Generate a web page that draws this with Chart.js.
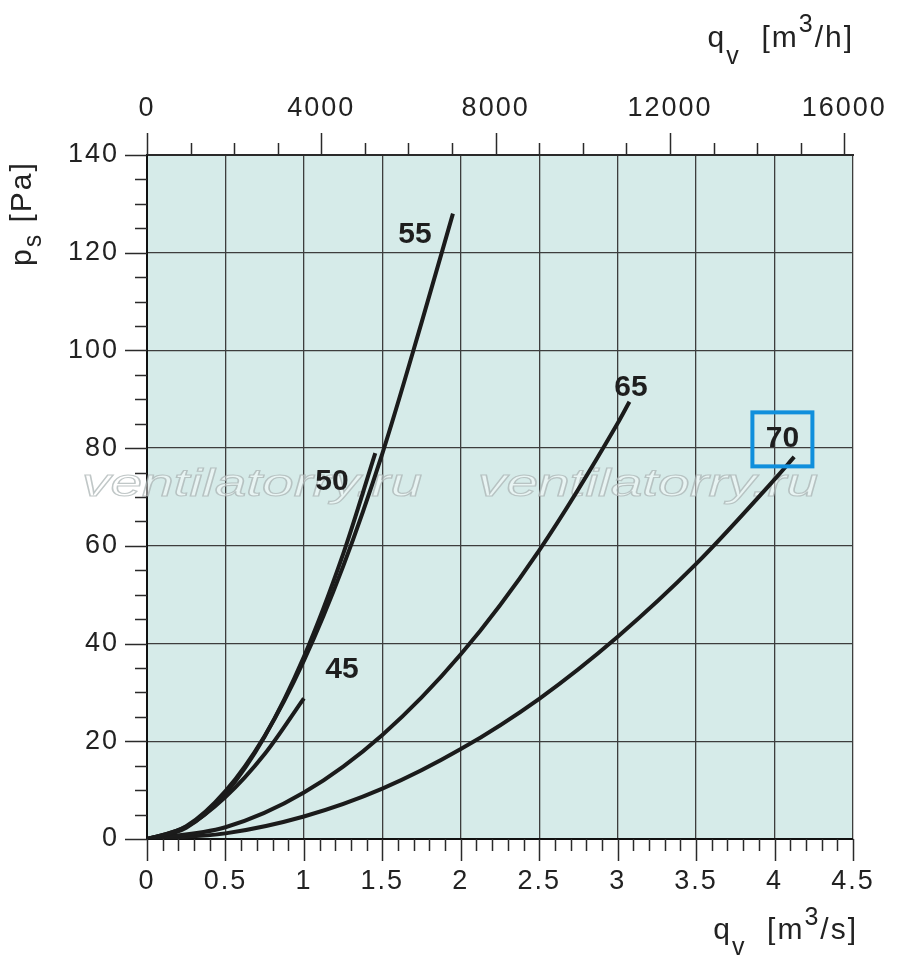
<!DOCTYPE html>
<html lang="ru">
<head>
<meta charset="UTF-8">
<title>ps - qv</title>
<style>
    * { margin: 0; padding: 0; box-sizing: border-box; }
    body { background: #fff; width: 900px; height: 979px; overflow: hidden; }
    #wrap { width: 900px; height: 979px; }
</style>
</head>
<body>
<div id="wrap"><canvas id="fanChart" width="900" height="979"></canvas></div>

<script src="https://cdn.jsdelivr.net/npm/chart.js"></script>
<script>
    // данные кривых (qv в м3/с, ps в Па)
    const curveNames = ['45', '50', '55', '65', '70'];
    const q45 = [0, 0.25, 0.5, 0.75, 1.0];
    const p45 = [0, 2.5, 8.6, 17.4, 28.8];
    const q50 = [0, 0.25, 0.5, 0.75, 1.0, 1.25, 1.455];
    const p50 = [0, 2.3, 9.3, 21.0, 37.3, 58.3, 79.0];
    const q55 = [0, 0.25, 0.5, 0.75, 1.0, 1.25, 1.5, 1.75, 1.95];
    const p55 = [0, 2.6, 9.8, 21.1, 36.5, 55.8, 78.9, 105.7, 128.0];
    const q65 = [0, 0.5, 1.0, 1.5, 2.0, 2.5, 3.0, 3.075];
    const p65 = [0, 2.4, 9.5, 21.3, 37.8, 59.1, 85.1, 89.5];
    const q70 = [0, 0.5, 1.0, 1.5, 2.0, 2.5, 3.0, 3.5, 4.0, 4.125];
    const p70 = [0, 1.15, 4.6, 10.3, 18.4, 28.7, 41.4, 56.3, 73.6, 78.2];

    // подписи осей
    const xTicks = [0, 0.5, 1, 1.5, 2, 2.5, 3, 3.5, 4, 4.5];
    const x2Ticks = [0, 4000, 8000, 12000, 16000];
    const yTicks = [0, 20, 40, 60, 80, 100, 120, 140];

    const FONT = "'Liberation Sans', Arial, sans-serif";
    Chart.defaults.font.family = FONT;

    const qAll = [q45, q50, q55, q65, q70];
    const pAll = [p45, p50, p55, p65, p70];

    const datasets = curveNames.map(function (name, i) {
        return {
            label: name,
            data: qAll[i].map(function (q, j) { return { x: q, y: pAll[i][j] }; }),
            borderColor: '#1b1b1b',
            borderWidth: 4,
            pointRadius: 0,
            fill: false,
            cubicInterpolationMode: 'monotone'
        };
    });

    // где стоят номера кривых (в единицах осей)
    const labelAt = {
        '45': [1.243, 34.6],
        '50': [1.179, 73.1],
        '55': [1.708, 123.6],
        '65': [3.085, 92.3],
        '70': [4.05, 82.0]
    };

    function richText(ctx, parts, x, y, align) {
        let total = 0;
        parts.forEach(function (p) {
            ctx.font = p[1] + 'px ' + FONT;
            total += ctx.measureText(p[0]).width;
        });
        let cx = align === 'right' ? x - total : x;
        parts.forEach(function (p) {
            ctx.font = p[1] + 'px ' + FONT;
            ctx.fillText(p[0], cx, y + p[2]);
            cx += ctx.measureText(p[0]).width;
        });
    }

    function watermark(ctx, x, y, width) {
        const text = 'ventilatorry.ru';
        ctx.save();
        ctx.letterSpacing = '0px';
        ctx.font = 'italic 38px ' + FONT;
        const w = ctx.measureText(text).width;
        const sx = width / w;
        ctx.translate(x, y);
        ctx.scale(sx, 1);
        ctx.fillStyle = 'rgba(255,255,255,0.45)';
        ctx.fillText(text, 0, 0);
        ctx.strokeStyle = 'rgba(165,175,175,0.7)';
        ctx.lineWidth = 1.1;
        ctx.strokeText(text, 0, 0);
        ctx.restore();
    }

    const decor = {
        id: 'decor',
        beforeDraw(chart) {
            const { ctx, chartArea: a } = chart;
            ctx.letterSpacing = '2px';
            ctx.save();
            ctx.fillStyle = '#d6ebe9';
            ctx.fillRect(a.left, a.top, a.right - a.left, a.bottom - a.top);
            ctx.restore();
        },
        beforeDatasetsDraw(chart) {
            const ctx = chart.ctx;
            watermark(ctx, 82, 496, 340);
            watermark(ctx, 478, 496, 340);
        },
        afterDraw(chart) {
            const { ctx, chartArea: a, scales } = chart;
            const xs = scales.x, x2 = scales.x2, ys = scales.y;
            ctx.save();
            ctx.strokeStyle = '#2a2a2a';
            ctx.lineWidth = 1.5;
            ctx.beginPath();
            // нижняя шкала: шаг 0.1
            for (let i = 0; i <= 45; i++) {
                const px = Math.round(xs.getPixelForValue(i / 10)) + 0.5;
                const len = i % 5 === 0 ? 22 : 12;
                ctx.moveTo(px, a.bottom);
                ctx.lineTo(px, a.bottom + len);
            }
            // верхняя шкала: шаг 1000
            for (let i = 0; i <= 16; i++) {
                const px = Math.round(x2.getPixelForValue(i * 1000)) + 0.5;
                const len = i % 4 === 0 ? 22 : 12;
                ctx.moveTo(px, a.top);
                ctx.lineTo(px, a.top - len);
            }
            // левая шкала: шаг 5
            for (let i = 0; i <= 28; i++) {
                const py = Math.round(ys.getPixelForValue(i * 5)) + 0.5;
                const len = i % 4 === 0 ? 22 : 12;
                ctx.moveTo(a.left, py);
                ctx.lineTo(a.left - len, py);
            }
            ctx.stroke();

            // названия осей
            ctx.fillStyle = '#222';
            ctx.textAlign = 'left';
            ctx.textBaseline = 'alphabetic';
            richText(ctx, [['q', 30, 0], ['v', 25, 16], ['  [m', 30, 0], ['3', 25, -14], ['/s]', 30, 0]], 858, 939, 'right');
            richText(ctx, [['q', 30, 0], ['v', 25, 17], ['  [m', 30, 0], ['3', 25, -15], ['/h]', 30, 0]], 854, 47, 'right');
            ctx.save();
            ctx.translate(31, 266);
            ctx.rotate(-Math.PI / 2);
            richText(ctx, [['p', 30, 0], ['s', 25, 10], [' [Pa]', 30, 0]], 0, 0, 'left');
            ctx.restore();

            // номера кривых
            ctx.letterSpacing = '0px';
            ctx.font = 'bold 30px ' + FONT;
            ctx.textAlign = 'center';
            ctx.textBaseline = 'middle';
            ctx.fillStyle = '#1e1e1e';
            curveNames.forEach(function (n) {
                const px = xs.getPixelForValue(labelAt[n][0]);
                const py = ys.getPixelForValue(labelAt[n][1]);
                ctx.fillText(n, px, py);
                if (n === '70') {
                    ctx.strokeStyle = '#108fdc';
                    ctx.lineWidth = 4;
                    ctx.strokeRect(px - 30, py - 26, 60, 54);
                }
            });
            ctx.restore();
        }
    };

    const tickFont = { size: 27 };
    const gridOpts = { color: '#3d3d3d', lineWidth: 1.3, drawTicks: false };

    new Chart(document.getElementById('fanChart').getContext('2d'), {
        type: 'line',
        data: { datasets: datasets },
        options: {
            responsive: false,
            animation: false,
            devicePixelRatio: 1,
            layout: { padding: { left: 0, right: 47, top: 0, bottom: 0 } },
            plugins: { legend: { display: false }, tooltip: { enabled: false } },
            scales: {
                x: {
                    type: 'linear', position: 'bottom', min: 0, max: 4.5,
                    afterBuildTicks(s) { s.ticks = xTicks.map(function (v) { return { value: v }; }); },
                    ticks: { font: tickFont, color: '#222', padding: 26, maxRotation: 0, autoSkip: false,
                             callback: function (v) { return String(v); } },
                    grid: gridOpts,
                    border: { color: '#111', width: 2 },
                    afterFit(s) { s.height = 140; s.paddingLeft = 0; s.paddingRight = 0; }
                },
                x2: {
                    type: 'linear', position: 'top', min: 0, max: 16200,
                    afterBuildTicks(s) { s.ticks = x2Ticks.map(function (v) { return { value: v }; }); },
                    ticks: { font: tickFont, color: '#222', padding: 30, maxRotation: 0, autoSkip: false,
                             callback: function (v) { return String(v); } },
                    grid: { display: false, drawTicks: false },
                    border: { color: '#2a2a2a', width: 2 },
                    afterFit(s) { s.height = 155; s.paddingLeft = 0; s.paddingRight = 0; }
                },
                y: {
                    type: 'linear', position: 'left', min: 0, max: 140,
                    afterBuildTicks(s) { s.ticks = yTicks.map(function (v) { return { value: v }; }); },
                    ticks: { font: tickFont, color: '#222', padding: 28 },
                    grid: gridOpts,
                    border: { color: '#111', width: 2 },
                    afterFit(s) { s.width = 147; s.paddingTop = 0; s.paddingBottom = 0; }
                }
            }
        },
        plugins: [decor]
    });
</script>
</body>
</html>
